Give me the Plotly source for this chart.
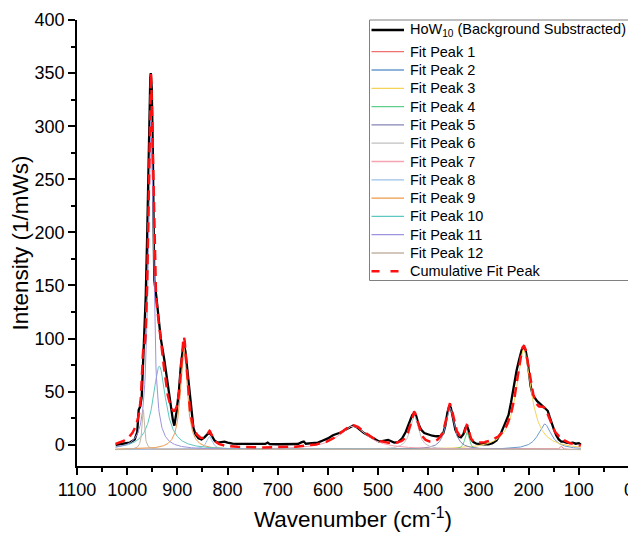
import numpy as np
import plotly.graph_objects as go

wn = [1023, 1015, 1005, 995, 985, 980, 977, 974, 971, 968, 966, 963, 960, 957, 954, 953,
      951, 949, 946, 942, 939, 933, 926, 917, 909, 906, 902, 897, 893, 889, 887, 884,
      880, 876, 872, 868, 864, 858, 852, 846, 840, 836, 832, 826, 820, 812, 806, 800,
      790, 780, 760, 740, 725, 720, 716, 700, 680, 660, 652, 648, 644, 630, 620, 610,
      600, 590, 580, 572, 566, 558, 550, 544, 536, 528, 520, 512, 504, 498, 492, 485,
      480, 475, 468, 460, 452, 445, 438, 432, 428, 424, 420, 414, 408, 400, 392, 384,
      376, 370, 366, 362, 358, 355, 351, 346, 340, 335, 330, 326, 323, 320, 316, 310,
      304, 296, 288, 280, 272, 264, 256, 248, 240, 235, 229, 224, 219, 214, 210, 206,
      202, 199, 196, 192, 187, 183, 178, 172, 166, 162, 158, 154, 150, 145, 140, 135,
      130, 125, 118, 112, 106, 100, 96]
intensity = [0, 0.5, 1, 2, 5, 12, 33, 36, 45, 80, 110, 140, 200, 290, 345, 350,
             335, 280, 155, 140, 127, 100, 80, 49, 23.5, 18, 30, 50, 75, 90, 94, 88,
             70, 48, 28, 16, 10, 6, 5, 7, 10, 11, 9, 4, 2, 2.5, 3, 2,
             1, 0.8, 0.6, 0.5, 0.8, 2, 0.6, 0.5, 0.5, 0.7, 2.5, 3, 1, 1.5, 2, 4,
             6, 9, 11, 12, 14, 16, 18, 17, 14, 11, 9, 7, 5, 3, 3.5, 4.5,
             4.5, 3.5, 2, 2.5, 6, 12, 21, 28, 30, 27, 20, 14, 11, 9.5, 8.5, 8,
             8, 11, 18, 30, 37, 35, 25, 14, 8, 7, 10, 16, 18, 14, 6, 2.5,
             1, 0.5, 0.5, 0.5, 1.5, 4, 10, 19, 28, 40, 58, 70, 80, 89, 92.5, 89,
             78, 66, 55, 47, 43, 41, 39, 36, 34, 32, 26, 20, 15, 9, 5, 3,
             3, 2, 1.5, 2, 1, 1.5, 0]

# Fit-Peaks (Lorentz): Lage, Hoehe ueber Offset, Halbwertsbreite
peak_center = [135, 168, 210, 323, 357, 428, 550, 836, 887, 936, 953, 968]
peak_height = [3, 24, 94, 16.5, 39.5, 32, 22, 12.3, 96, 78.5, 316, 37.5]
peak_fwhm = [6, 32, 36, 10, 20, 20, 70, 14, 16, 31, 11.8, 6]
offset = -4.5

peak_colors = ['#F07070', '#6A9BD1', '#F5D25A', '#5ED08C', '#8585B8', '#C0C0C0',
               '#F5A3B0', '#9CC2E8', '#EE9A4D', '#5EC7C0', '#9C94DE', '#C4B5A5']

x_fit = np.linspace(1023, 96, 1200)


def lorentz(x, xc, a, w):
    g = w / 2
    return a * g**2 / ((x - xc)**2 + g**2)


# Seite hat 8px body-Rand -> Figur um 8px kleiner, Koordinaten verschoben
OFF = 8
W, H = 636 - OFF, 537 - OFF
ML, MR, MT, MB = 77 - OFF, 7, 20 - OFF, 71
pw, ph = W - ML - MR, H - MT - MB


# Bildschirm-Pixel -> Papierkoordinaten (fuer die Legende)
def px(x):
    return (x - OFF - ML) / pw


def py(y):
    return (H - MB - (y - OFF)) / ph


fig = go.Figure()

fig.add_trace(go.Scatter(x=wn, y=intensity, mode='lines',
                         line=dict(color='black', width=2.3),
                         name='HoW<sub>10</sub> (Background Substracted)'))

cumulative = np.full_like(x_fit, offset)
for i in range(len(peak_center)):
    y_peak = lorentz(x_fit, peak_center[i], peak_height[i], peak_fwhm[i])
    cumulative += y_peak
    fig.add_trace(go.Scatter(x=x_fit, y=y_peak + offset, mode='lines',
                             line=dict(color=peak_colors[i], width=1),
                             name=f'Fit Peak {i + 1}'))

fig.add_trace(go.Scatter(x=x_fit, y=cumulative, mode='lines',
                         line=dict(color='#FF1010', width=2.5, dash='10px,6px'),
                         name='Cumulative Fit Peak'))

# Legende von Hand, damit Abstaende wie im Original passen
shapes = [dict(type='rect', xref='paper', yref='paper',
               x0=px(369.5), x1=px(630.5), y0=py(280.5), y1=py(20),
               line=dict(color='#808080', width=1), fillcolor='white', layer='above')]
annotations = []
row_y = [30] + [51.7 + 18.3 * k for k in range(13)]
for j, tr in enumerate(fig.data):
    yy = py(row_y[j])
    ln = dict(color=tr.line.color, width=tr.line.width if j == 0 else 1.3)
    if j == len(fig.data) - 1:
        ln = dict(color='#FF1010', width=2.5, dash='8px,11px')
    shapes.append(dict(type='line', xref='paper', yref='paper',
                       x0=px(371.5), x1=px(404), y0=yy, y1=yy, line=ln, layer='above'))
    annotations.append(dict(xref='paper', yref='paper', x=px(408.5), y=yy,
                            text=tr.name, showarrow=False, xanchor='left', yanchor='middle',
                            font=dict(size=14.5, color='black')))

fig.update_layout(
    width=W, height=H,
    margin=dict(l=ML, r=MR, t=MT, b=MB),
    plot_bgcolor='white', paper_bgcolor='white',
    font=dict(family='Arial, Liberation Sans, sans-serif', color='black'),
    showlegend=False,
    shapes=shapes, annotations=annotations,
)

fig.update_xaxes(range=[1100, 0], tickmode='linear', tick0=0, dtick=100,
                 ticks='outside', ticklen=7, tickwidth=1.5, tickcolor='black',
                 minor=dict(dtick=50, ticks='outside', ticklen=4, tickwidth=1.5, tickcolor='black'),
                 showline=True, linecolor='black', linewidth=1.5, mirror=False,
                 showgrid=False, zeroline=False, tickfont=dict(size=18), automargin=False,
                 ticklabeloverflow='allow',
                 title=dict(text='Wavenumber (cm<sup>-1</sup>)', font=dict(size=22.5), standoff=12))

fig.update_yaxes(range=[-20, 400], tickmode='linear', tick0=0, dtick=50,
                 ticks='outside', ticklen=7, tickwidth=1.5, tickcolor='black',
                 minor=dict(dtick=25, ticks='outside', ticklen=4, tickwidth=1.5, tickcolor='black'),
                 showline=True, linecolor='black', linewidth=1.5, mirror=False,
                 showgrid=False, zeroline=False, tickfont=dict(size=18), automargin=False,
                 title=dict(text='Intensity (1/mWs)', font=dict(size=22.5), standoff=0))

fig.write_html("out.html")
